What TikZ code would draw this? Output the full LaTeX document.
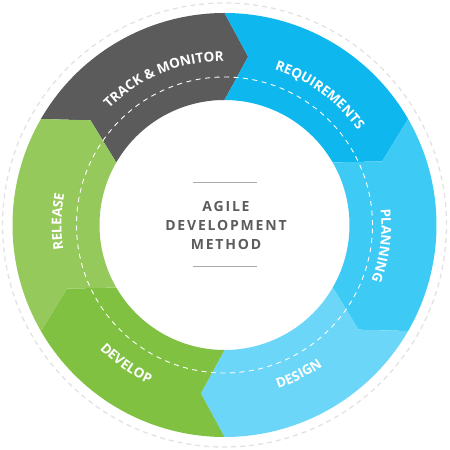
\documentclass[tikz,border=0pt]{standalone}
\usepackage{fontspec}
\setmainfont{Open Sans}
\newfontfamily\ctrfam[LetterSpace=13]{Open Sans}
\definecolor{ctrack}{HTML}{5B5B5B}
\definecolor{creq}{HTML}{0EB8EE}
\definecolor{cplan}{HTML}{3DCAF5}
\definecolor{cdesign}{HTML}{6BD6F8}
\definecolor{cdevelop}{HTML}{80C141}
\definecolor{crelease}{HTML}{95C95B}
\definecolor{ctrtext}{HTML}{5C5C5C}
\definecolor{cline}{HTML}{ABABAB}
\definecolor{cdash}{HTML}{E2E2E2}
\newcommand{\rfont}{\bfseries\fontsize{13.5}{16}\selectfont}
\tikzset{ringchar/.style={anchor=base, inner sep=0, outer sep=0, text=white, font=\rfont}}
\newdimen\arcW \newdimen\chW \newdimen\arcPos
\newsavebox{\chbox}
\makeatletter
% #1 tag, #2 centre angle, #3 baseline radius, #4 dir (1 = clockwise, tops out; -1 = ccw, tops in), #5 list of characters
\newcommand{\preparc}[5]{%
  \global\arcW=0pt
  \foreach \c in {#5}{\sbox{\chbox}{\rfont\c}\global\advance\arcW by \wd\chbox}%
  \global\arcPos=-0.5\arcW
  \gdef\tmplist{}%
  \foreach \c in {#5}{%
    \sbox{\chbox}{\rfont\c}\chW=\wd\chbox
    \edef\midpos{\strip@pt\dimexpr\arcPos+0.5\chW\relax}%
    \pgfmathsetmacro{\ang}{#2-(#4)*\midpos/(#3)*57.29578}%
    \ifx\tmplist\@empty
      \xdef\tmplist{{\unexpanded\expandafter{\c}}/\ang}%
    \else
      \xdef\tmplist{\unexpanded\expandafter{\tmplist},{\unexpanded\expandafter{\c}}/\ang}%
    \fi
    \global\advance\arcPos by \chW}%
  \global\expandafter\let\csname arcl@#1\endcsname\tmplist}
% #1 tag, #2 radius, #3 dir
\newcommand{\drawarc}[3]{%
  \expandafter\let\expandafter\curlst\csname arcl@#1\endcsname
  \foreach \c/\a [count=\i] in \curlst {%
    \node[ringchar, rotate=\a-(#3)*90] (#1\i) at (\a:#2) {\c};}}
\makeatother
% segment: #1 colour, #2 start angle (higher), #3 end angle
\newcommand{\ringseg}[3]{%
  \fill[#1] (#2:212) arc[start angle=#2, end angle=#3, radius=212]
    -- (#3-8:170) -- (#3:125) arc[start angle=#3, end angle=#2, radius=125]
    -- (#2-8:170) -- cycle;}
\begin{document}
\preparc{trk}{112.5}{164}{1}{T,R,A,C,K,~,\&,~,M,O,N,I,T,O,R}%
\preparc{req}{53.8}{163.5}{1}{R,E,Q,U,I,R,E,M,E,N,T,S}%
\preparc{pln}{-7.4}{157}{1}{P,L,A,N,N,I,N,G}%
\preparc{dsg}{-63.5}{172}{-1}{D,E,S,I,G,N}%
\preparc{dev}{-125.3}{176}{-1}{D,E,V,E,L,O,P}%
\preparc{rel}{178.8}{163}{1}{R,E,L,E,A,S,E}%
\begin{tikzpicture}[x=1pt,y=1pt]
\useasboundingbox (-224.5,-225) rectangle (225.5,225);
% outer dashed circle
\draw[cdash, line width=1.3pt, dash pattern=on 5pt off 4pt] (0,0) circle[radius=222];
% ring segments
\ringseg{ctrack}{150}{90}
\ringseg{creq}{90}{30}
\ringseg{cplan}{30}{-30}
\ringseg{cdesign}{-30}{-90}
\ringseg{cdevelop}{-90}{-150}
\ringseg{crelease}{-150}{-210}
% middle dashed circle
\draw[white, line width=0.9pt, dash pattern=on 5pt off 4.5pt] (0,0) circle[radius=148];
% ring labels
\drawarc{trk}{164}{1}
\drawarc{req}{163.5}{1}
\drawarc{pln}{157}{1}
\drawarc{dsg}{172}{-1}
\drawarc{dev}{176}{-1}
\drawarc{rel}{163}{1}
% centre title
\node[align=center, text=ctrtext, font=\ctrfam\bfseries\fontsize{14}{19.3}\selectfont, inner sep=0] (title) at (1.5,-0.5) {AGILE\\DEVELOPMENT\\METHOD};
\coordinate (tl1) at (-31.5,42);
\coordinate (tl2) at (32.5,42);
\coordinate (bl1) at (-31.5,-41);
\coordinate (bl2) at (32.5,-41);
\draw[cline, line width=1pt] (tl1) -- (tl2);
\draw[cline, line width=1pt] (bl1) -- (bl2);
\end{tikzpicture}
\end{document}
